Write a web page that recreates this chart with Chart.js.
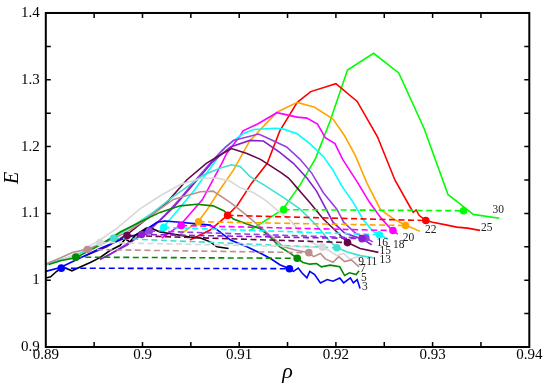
<!DOCTYPE html>
<html>
<head>
<meta charset="utf-8">
<script src="https://cdn.jsdelivr.net/npm/chart.js@4.4.1/dist/chart.umd.min.js"></script>
<style>
html, body { margin: 0; padding: 0; background: #fff; }
#wrap { width: 545px; height: 384px; }
</style>
</head>
<body>
<div id="wrap"><canvas id="c" width="545" height="384"></canvas></div>
<script>
// cluster size of every curve, and its colour (grace palette)
var sizes = [3, 5, 7, 9, 11, 13, 15, 16, 18, 20, 22, 25, 30];
var colors = ['#0000ff', '#008b00', '#bc8f8f', '#d8d8d8', '#40e0d0', '#670748', '#8a1fcf', '#9a3fe0',
  '#00ffff', '#ff00ff', '#ffa500', '#ff0000', '#00ff00'];

var xTicks = [0.89, 0.9, 0.91, 0.92, 0.93, 0.94];
var yTicks = [0.9, 1.0, 1.1, 1.2, 1.3, 1.4];

// curves [rho, E]
var line0 = [[0.8900,1.0034],[0.8905,1.0050],[0.8911,1.0130],[0.8917,1.0195],[0.8922,1.0170],[0.8927,1.0140],
  [0.8935,1.0195],[0.8946,1.0265],[0.8956,1.0338],[0.8966,1.0441],[0.8977,1.0522],[0.8982,1.0618],[0.8987,1.0574],
  [0.8993,1.0677],[0.9004,1.0779],[0.9010,1.0772],[0.9018,1.0721],[0.9039,1.0672],[0.9049,1.0647],[0.9060,1.0632],
  [0.9070,1.0574],[0.9077,1.0500],[0.9089,1.0475]];
var line3 = [[0.8900,1.0132],[0.8915,1.0191],[0.8935,1.0328],[0.8956,1.0475],[0.8980,1.0622],[0.8997,1.0696],
  [0.9015,1.0868],[0.9023,1.0887],[0.9039,1.0868],[0.9056,1.0843],[0.9070,1.0825],[0.9078,1.0745],[0.9091,1.0600],
  [0.9108,1.0500],[0.9122,1.0402],[0.9132,1.0328],[0.9142,1.0231],[0.9152,1.0172],[0.9156,1.0132],[0.9161,1.0181],
  [0.9165,1.0107],[0.9170,1.0034],[0.9173,1.0132],[0.9178,1.0084],[0.9184,0.9960],[0.9191,1.0010],[0.9197,0.9985],
  [0.9204,1.0034],[0.9208,0.9960],[0.9215,1.0034],[0.9218,0.9960],[0.9222,1.0010],[0.9225,0.9875]];
var line5 = [[0.8903,1.0235],[0.8915,1.0290],[0.8931,1.0338],[0.8956,1.0525],[0.8977,1.0721],[0.8997,1.0868],
  [0.9018,1.1015],[0.9039,1.1113],[0.9056,1.1137],[0.9073,1.1113],[0.9084,1.1040],[0.9094,1.0916],[0.9108,1.0843],
  [0.9122,1.0769],[0.9132,1.0647],[0.9142,1.0500],[0.9153,1.0402],[0.9160,1.0328],[0.9166,1.0265],[0.9173,1.0240],
  [0.9180,1.0250],[0.9185,1.0200],[0.9194,1.0225],[0.9204,1.0200],[0.9209,1.0070],[0.9214,1.0110],[0.9221,1.0085],
  [0.9224,1.0140]];
var line7 = [[0.8900,1.0243],[0.8915,1.0331],[0.8928,1.0419],[0.8943,1.0463],[0.8963,1.0574],[0.8984,1.0721],
  [0.9004,1.0916],[0.9018,1.1063],[0.9032,1.1210],[0.9046,1.1269],[0.9060,1.1324],[0.9073,1.1334],[0.9091,1.1162],
  [0.9104,1.1015],[0.9118,1.0843],[0.9132,1.0672],[0.9146,1.0500],[0.9158,1.0451],[0.9172,1.0412],[0.9177,1.0353],
  [0.9184,1.0401],[0.9189,1.0319],[0.9197,1.0269],[0.9203,1.0353],[0.9209,1.0279],[0.9216,1.0304],[0.9224,1.0200]];
var line9 = [[0.8912,1.0270],[0.8928,1.0378],[0.8953,1.0574],[0.8973,1.0770],[0.8997,1.1063],[0.9018,1.1260],
  [0.9039,1.1431],[0.9060,1.1522],[0.9077,1.1530],[0.9091,1.1481],[0.9101,1.1382],[0.9115,1.1309],[0.9128,1.1187],
  [0.9142,1.1015],[0.9153,1.0893],[0.9163,1.0721],[0.9173,1.0574],[0.9186,1.0493],[0.9192,1.0451],[0.9201,1.0368],
  [0.9208,1.0402],[0.9215,1.0309],[0.9222,1.0353],[0.9225,1.0324]];
var line11 = [[0.8900,1.0228],[0.8915,1.0304],[0.8935,1.0401],[0.8969,1.0632],[0.8991,1.0819],[0.9011,1.1015],
  [0.9028,1.1210],[0.9046,1.1397],[0.9063,1.1574],[0.9080,1.1677],[0.9092,1.1728],[0.9101,1.1702],[0.9111,1.1554],
  [0.9125,1.1431],[0.9146,1.1235],[0.9163,1.1063],[0.9180,1.0819],[0.9194,1.0574],[0.9202,1.0485],[0.9211,1.0426],
  [0.9225,1.0368],[0.9238,1.0338]];
var line13 = [[0.8939,1.0353],[0.8963,1.0500],[0.8984,1.0684],[0.9004,1.0916],[0.9025,1.1162],[0.9046,1.1504],
  [0.9066,1.1750],[0.9080,1.1872],[0.9092,1.1971],[0.9108,1.1897],[0.9122,1.1809],[0.9144,1.1603],[0.9151,1.1530],
  [0.9154,1.1481],[0.9159,1.1397],[0.9166,1.1279],[0.9173,1.1162],[0.9180,1.1040],[0.9187,1.0916],[0.9194,1.0819],
  [0.9203,1.0696],[0.9212,1.0563],[0.9225,1.0475],[0.9244,1.0416]];
var line15 = [[0.8956,1.0309],[0.8984,1.0525],[0.8999,1.0691],[0.9018,1.0897],[0.9032,1.1088],[0.9046,1.1324],
  [0.9060,1.1559],[0.9073,1.1779],[0.9091,1.1995],[0.9111,1.2093],[0.9125,1.2084],[0.9142,1.1912],[0.9156,1.1750],
  [0.9170,1.1529],[0.9180,1.1334],[0.9197,1.0868],[0.9209,1.0706],[0.9227,1.0618],[0.9237,1.0530]];
var line16 = [[0.8961,1.0338],[0.8987,1.0574],[0.9007,1.0740],[0.9023,1.0971],[0.9039,1.1221],[0.9054,1.1485],
  [0.9070,1.1750],[0.9082,1.1941],[0.9094,1.2093],[0.9101,1.2118],[0.9120,1.2187],[0.9127,1.2143],[0.9149,1.1995],
  [0.9163,1.1809],[0.9175,1.1603],[0.9187,1.1309],[0.9201,1.1063],[0.9208,1.0868],[0.9220,1.0706],[0.9231,1.0632],
  [0.9238,1.0574]];
var line18 = [[0.9018,1.0735],[0.9022,1.0801],[0.9038,1.1074],[0.9054,1.1353],[0.9070,1.1677],[0.9086,1.2000],
  [0.9104,1.2191],[0.9115,1.2257],[0.9137,1.2275],[0.9145,1.2265],[0.9160,1.2191],[0.9173,1.2044],[0.9187,1.1853],
  [0.9197,1.1647],[0.9206,1.1412],[0.9218,1.1162],[0.9228,1.0912],[0.9238,1.0735],[0.9245,1.0681],[0.9254,1.0618]];
var line20 = [[0.9020,1.0632],[0.9039,1.0823],[0.9062,1.1206],[0.9082,1.1750],[0.9087,1.1897],[0.9101,1.2162],
  [0.9104,1.2235],[0.9119,1.2338],[0.9139,1.2507],[0.9160,1.2441],[0.9170,1.2426],[0.9181,1.2338],[0.9189,1.2132],
  [0.9199,1.2044],[0.9207,1.1809],[0.9222,1.1471],[0.9235,1.1162],[0.9246,1.0941],[0.9256,1.0779],[0.9259,1.0743],
  [0.9264,1.0691]];
var line22 = [[0.9039,1.0684],[0.9058,1.0882],[0.9067,1.1059],[0.9080,1.1353],[0.9094,1.1647],[0.9111,1.2088],
  [0.9139,1.2515],[0.9160,1.2662],[0.9178,1.2588],[0.9197,1.2412],[0.9209,1.2162],[0.9220,1.1868],[0.9232,1.1456],
  [0.9246,1.1059],[0.9260,1.0912],[0.9273,1.0819],[0.9287,1.0731]];
var line25 = [[0.9049,1.0603],[0.9070,1.0750],[0.9088,1.0975],[0.9098,1.1118],[0.9113,1.1456],[0.9129,1.1750],
  [0.9142,1.2235],[0.9160,1.2662],[0.9174,1.2823],[0.9200,1.2941],[0.9222,1.2676],[0.9243,1.2147],[0.9261,1.1500],
  [0.9277,1.1088],[0.9280,1.1015],[0.9283,1.1052],[0.9286,1.0971],[0.9293,1.0893],[0.9300,1.0868],[0.9315,1.0824],
  [0.9325,1.0794],[0.9336,1.0779],[0.9349,1.0746]];
var line30 = [[0.9110,1.0735],[0.9145,1.1059],[0.9163,1.1426],[0.9179,1.1823],[0.9194,1.2382],[0.9212,1.3147],
  [0.9239,1.3397],[0.9265,1.3103],[0.9291,1.2279],[0.9316,1.1279],[0.9328,1.1147],[0.9342,1.0985],[0.9369,1.0926]];
var lines = [line3, line5, line7, line9, line11, line13, line15, line16, line18, line20, line22, line25, line30];

// coexistence points, low and high density side
var leftPt = [[0.8916,1.0180],[0.8931,1.0345],[0.8943,1.0460],[0.8956,1.0565],[0.8970,1.0628],[0.8984,1.0670],
  [0.8999,1.0685],[0.9007,1.0737],[0.9022,1.0790],[0.9040,1.0818],[0.9058,1.0875],[0.9088,1.0970],[0.9146,1.1056]];
var rightPt = [[0.9152,1.0172],[0.9160,1.0328],[0.9172,1.0412],[0.9186,1.0495],[0.9201,1.0485],[0.9212,1.0563],
  [0.9227,1.0622],[0.9231,1.0632],[0.9245,1.0681],[0.9259,1.0743],[0.9272,1.0819],[0.9293,1.0893],[0.9332,1.1040]];
var labelAt = [[0.9230,0.9900],[0.9229,1.0030],[0.9228,1.0170],[0.9226,1.0277],[0.9237,1.0270],[0.9251,1.0297],
  [0.9251,1.0440],[0.9248,1.0550],[0.9265,1.0520],[0.9275,1.0625],[0.9298,1.0750],[0.9356,1.0775],[0.9368,1.1050]];

function pts(a) {
  return a.map(function (p) { return { x: p[0], y: p[1] }; });
}

var datasets = [];
datasets.push({ data: pts(line0), borderColor: '#000000', borderWidth: 1.6, showLine: true, pointRadius: 0, order: 3 });
for (var k = 0; k < sizes.length; k++) {
  datasets.push({ data: pts(lines[k]), borderColor: colors[k], borderWidth: 1.6, showLine: true, pointRadius: 0, order: 3 });
  datasets.push({ data: pts([leftPt[k], rightPt[k]]), borderColor: colors[k], borderWidth: 1.6, borderDash: [6, 3.5],
    showLine: true, pointRadius: 0, order: 2 });
  datasets.push({ data: pts([leftPt[k], rightPt[k]]), showLine: false, pointRadius: 3.8, pointBorderWidth: 0,
    backgroundColor: colors[k], borderColor: colors[k], order: 1 });
}

// frame, inward ticks, curve numbers and axis titles
var framePlugin = {
  id: 'frame',
  afterDatasetsDraw: function (chart) {
    var ctx = chart.ctx, a = chart.chartArea, xs = chart.scales.x, ys = chart.scales.y;
    var i, p;
    ctx.save();
    ctx.strokeStyle = '#000';
    ctx.lineWidth = 1.5;
    ctx.beginPath();
    for (i = 1; i < 10; i++) {
      p = xs.getPixelForValue(0.89 + i * 0.005);
      ctx.moveTo(p, a.bottom); ctx.lineTo(p, a.bottom - 5);
      ctx.moveTo(p, a.top); ctx.lineTo(p, a.top + 5);
      p = ys.getPixelForValue(0.9 + i * 0.05);
      ctx.moveTo(a.left, p); ctx.lineTo(a.left + 5, p);
      ctx.moveTo(a.right, p); ctx.lineTo(a.right - 5, p);
    }
    ctx.stroke();
    ctx.lineWidth = 2;
    ctx.strokeRect(a.left, a.top, a.right - a.left, a.bottom - a.top);

    ctx.fillStyle = '#222';
    ctx.font = '11.5px "Liberation Serif"';
    ctx.textAlign = 'center';
    ctx.textBaseline = 'middle';
    for (i = 0; i < sizes.length; i++) {
      ctx.fillText(String(sizes[i]), xs.getPixelForValue(labelAt[i][0]), ys.getPixelForValue(labelAt[i][1]));
    }

    ctx.fillStyle = '#000';
    ctx.font = 'italic 22px "Liberation Serif"';
    ctx.fillText('\u03c1', (a.left + a.right) / 2, 372);
    ctx.translate(13, (a.top + a.bottom) / 2 - 2);
    ctx.rotate(-Math.PI / 2);
    ctx.font = 'italic 20px "Liberation Serif"';
    ctx.fillText('E', 0, 0);
    ctx.restore();
  }
};

var tickFont = { family: '"Liberation Serif"', size: 15, lineHeight: 0.93 };

new Chart(document.getElementById('c'), {
  type: 'scatter',
  data: { datasets: datasets },
  options: {
    responsive: false,
    animation: false,
    devicePixelRatio: 1,
    layout: { padding: { left: 0, right: 15.7, top: 7, bottom: 0 } },
    plugins: { legend: { display: false }, tooltip: { enabled: false } },
    elements: { line: { tension: 0 } },
    scales: {
      x: {
        type: 'linear', min: 0.89, max: 0.94,
        grid: { display: false, drawTicks: false },
        border: { display: false },
        afterBuildTicks: function (s) { s.ticks = xTicks.map(function (v) { return { value: v }; }); },
        afterFit: function (s) { s.height = 37; },
        ticks: {
          autoSkip: false, maxRotation: 0, padding: 1, color: '#000', font: tickFont,
          callback: function (v) { return String(+v.toFixed(2)); }
        }
      },
      y: {
        type: 'linear', min: 0.9, max: 1.4,
        grid: { display: false, drawTicks: false },
        border: { display: false },
        afterBuildTicks: function (s) { s.ticks = yTicks.map(function (v) { return { value: v }; }); },
        afterFit: function (s) { s.width = 45.8; },
        ticks: {
          autoSkip: false, padding: 6, color: '#000', font: tickFont,
          callback: function (v) { return String(+v.toFixed(1)); }
        }
      }
    }
  },
  plugins: [framePlugin]
});
</script>
</body>
</html>
